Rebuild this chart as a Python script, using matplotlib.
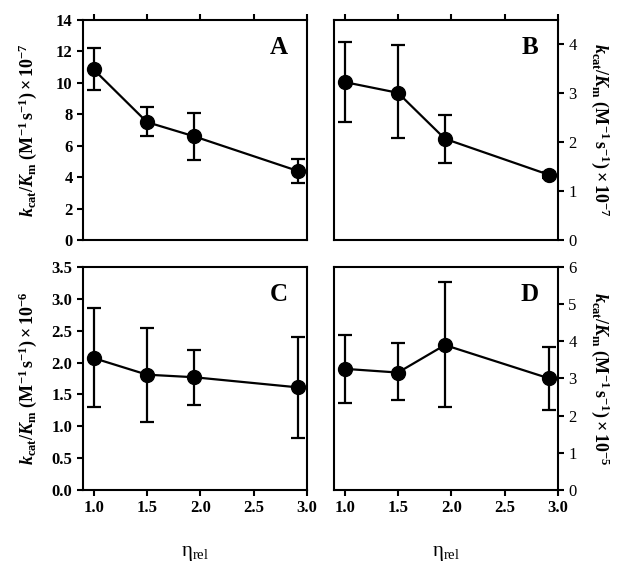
import matplotlib
matplotlib.use("Agg")
import matplotlib.pyplot as plt

plt.rcParams['font.family'] = ['Liberation Serif', 'DejaVu Serif']
plt.rcParams['mathtext.fontset'] = 'custom'
plt.rcParams['mathtext.rm'] = 'Liberation Serif:bold'
plt.rcParams['mathtext.it'] = 'Liberation Serif:italic:bold'
plt.rcParams['mathtext.bf'] = 'Liberation Serif:bold'
plt.rcParams['mathtext.sf'] = 'Liberation Serif'

# --- data ---
eta_rel = [1.0, 1.5, 1.94, 2.92]

a_val = [10.85, 7.5, 6.6, 4.38]
a_lo = [9.55, 6.62, 5.09, 3.6]
a_hi = [12.22, 8.45, 8.1, 5.16]

b_val = [3.23, 3.01, 2.07, 1.33]
b_lo = [2.42, 2.08, 1.58, 1.27]
b_hi = [4.04, 3.98, 2.56, 1.39]

c_val = [2.07, 1.81, 1.77, 1.61]
c_lo = [1.30, 1.07, 1.34, 0.82]
c_hi = [2.85, 2.55, 2.20, 2.40]

d_val = [3.26, 3.16, 3.90, 3.00]
d_lo = [2.34, 2.41, 2.23, 2.14]
d_hi = [4.17, 3.95, 5.59, 3.86]

x_ticks = [1.0, 1.5, 2.0, 2.5, 3.0]

ylab7 = r'$k_{\mathrm{cat}}/K_{\mathrm{m}}$ $\mathrm{(M^{-1}\,s^{-1})\times 10^{-7}}$'
ylab6 = r'$k_{\mathrm{cat}}/K_{\mathrm{m}}$ $\mathrm{(M^{-1}\,s^{-1})\times 10^{-6}}$'
ylab5 = r'$k_{\mathrm{cat}}/K_{\mathrm{m}}$ $\mathrm{(M^{-1}\,s^{-1})\times 10^{-5}}$'

fig = plt.figure(figsize=(6.26, 5.69), dpi=100)

W = 0.3578
panels = [
    # rect, vals, lo, hi, ylim, yticks, fmt, ylabel, letter, right, top
    ([0.1326, 0.5782, W, 0.3867], a_val, a_lo, a_hi, (0, 14), range(0, 15, 2), '%d', ylab7, 'A', False, True),
    ([0.5335, 0.5782, W, 0.3867], b_val, b_lo, b_hi, (0, 4.5), range(0, 5), '%d', ylab7, 'B', True, True),
    ([0.1326, 0.1388, W, 0.3920], c_val, c_lo, c_hi, (0, 3.5), [i * 0.5 for i in range(8)], '%.1f', ylab6, 'C', False, False),
    ([0.5335, 0.1388, W, 0.3920], d_val, d_lo, d_hi, (0, 6), range(0, 7), '%d', ylab5, 'D', True, False),
]

for rect, vals, lo, hi, ylim, yticks, fmt, ylab, letter, right, top in panels:
    ax = fig.add_axes(rect)
    yerr = [[v - l for v, l in zip(vals, lo)], [h - v for v, h in zip(vals, hi)]]
    ax.errorbar(eta_rel, vals, yerr=yerr, fmt='-o', color='black', lw=1.6,
                ms=10, capsize=5, capthick=1.6, elinewidth=1.6)
    ax.set_xlim(0.9, 3.0)
    ax.set_ylim(*ylim)
    ax.set_xticks(x_ticks)
    ax.set_yticks(list(yticks))
    ax.set_yticklabels([fmt % t for t in yticks])
    ax.set_xticklabels(['%.1f' % t for t in x_ticks])
    for s in ax.spines.values():
        s.set_linewidth(1.5)
    ax.tick_params(direction='out', length=4, width=1.5, labelsize=12)
    for lab in ax.get_xticklabels() + ax.get_yticklabels():
        lab.set_fontweight('bold')
    if top:
        ax.tick_params(axis='x', bottom=False, labelbottom=False, top=True, labeltop=False)
    else:
        ax.set_xlabel('η$_{\\mathsf{rel}}$', fontsize=15, labelpad=20)
    if right:
        ax.tick_params(axis='y', left=False, labelleft=False, right=True, labelright=True)
        ax.yaxis.set_label_position('right')
        ax.set_ylabel(ylab, fontsize=13, rotation=270, va='center')
        ax.yaxis.set_label_coords(1.19, 0.5)
    else:
        ax.set_ylabel(ylab, fontsize=13, va='center')
        ax.yaxis.set_label_coords(-0.245, 0.5)
    ax.text(0.875, 0.875, letter, transform=ax.transAxes, fontsize=18,
            fontweight='bold', ha='center', va='center')

fig.savefig('out.png', dpi=100)
